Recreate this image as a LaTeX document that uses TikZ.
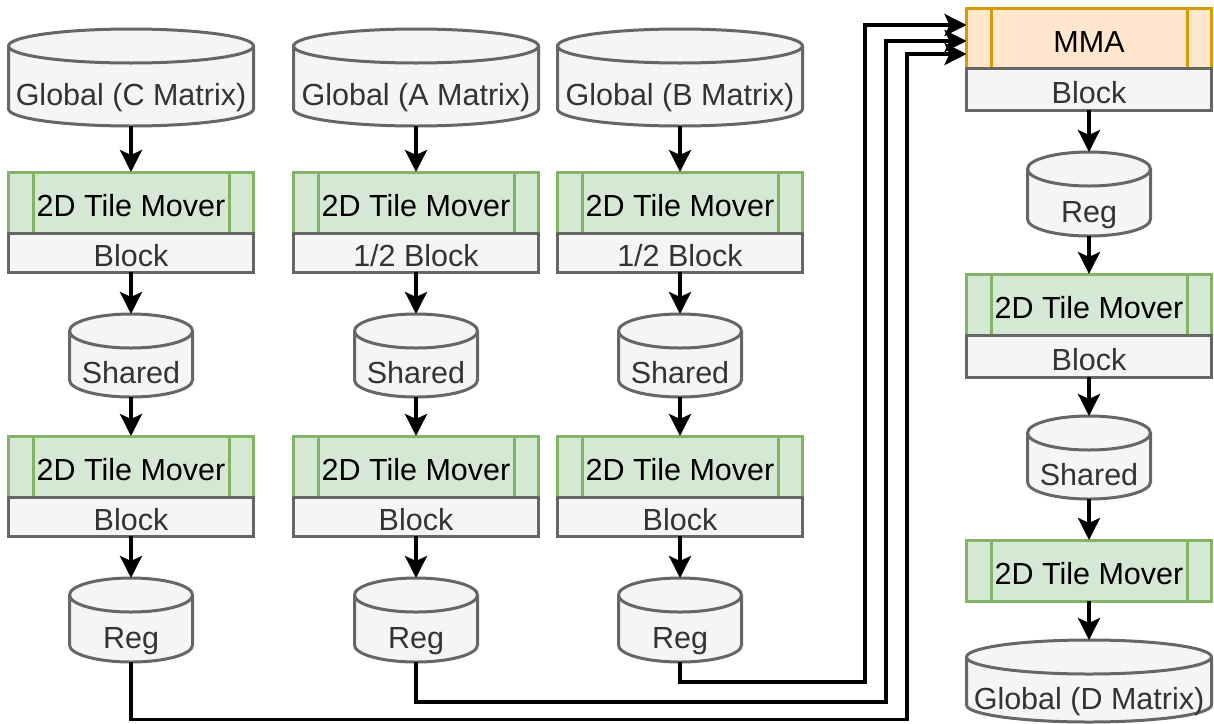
\documentclass[tikz,border=0pt]{standalone}
\usepackage{fontspec}
\setmainfont{Liberation Sans}
\usetikzlibrary{arrows.meta}

\definecolor{boxgray}{HTML}{666666}
\definecolor{boxfill}{HTML}{F5F5F5}
\definecolor{boxtext}{HTML}{333333}
\definecolor{tilefill}{HTML}{D5E8D4}
\definecolor{tileline}{HTML}{82B366}
\definecolor{mmafill}{HTML}{FFE6CC}
\definecolor{mmaline}{HTML}{D79B00}

% drum: a storage cylinder filling the node's rectangle, top ellipse visible
\makeatletter
\pgfkeys{/pgf/drum ry/.initial=17pt}
\pgfdeclareshape{drum}{%
  \inheritsavedanchors[from=rectangle]%
  \inheritanchorborder[from=rectangle]%
  \inheritanchor[from=rectangle]{center}%
  \inheritanchor[from=rectangle]{north}%
  \inheritanchor[from=rectangle]{south}%
  \inheritanchor[from=rectangle]{east}%
  \inheritanchor[from=rectangle]{west}%
  \inheritanchor[from=rectangle]{north east}%
  \inheritanchor[from=rectangle]{north west}%
  \inheritanchor[from=rectangle]{south east}%
  \inheritanchor[from=rectangle]{south west}%
  \backgroundpath{%
    \pgfmathsetlength\pgf@yc{\pgfkeysvalueof{/pgf/drum ry}}%
    \southwest\pgf@xa=\pgf@x\pgf@ya=\pgf@y
    \northeast\pgf@xb=\pgf@x\pgf@yb=\pgf@y
    \pgf@xc=\pgf@xb\advance\pgf@xc by-\pgf@xa\pgf@xc=.5\pgf@xc
    \advance\pgf@yb by-\pgf@yc
    \advance\pgf@ya by\pgf@yc
    \edef\drum@rx{\the\pgf@xc}\edef\drum@ry{\the\pgf@yc}%
    \edef\drum@xa{\the\pgf@xa}\edef\drum@xb{\the\pgf@xb}%
    \edef\drum@ya{\the\pgf@ya}\edef\drum@yb{\the\pgf@yb}%
    % outline: top arc, right side, bottom arc, left side
    \pgfpathmoveto{\pgfqpoint{\drum@xa}{\drum@yb}}%
    \pgfpatharc{180}{0}{\drum@rx and \drum@ry}%
    \pgfpathlineto{\pgfqpoint{\drum@xb}{\drum@ya}}%
    \pgfpatharc{0}{-180}{\drum@rx and \drum@ry}%
    \pgfpathclose
    % front half of the top ellipse
    \pgfpathmoveto{\pgfqpoint{\drum@xb}{\drum@yb}}%
    \pgfpatharc{0}{-180}{\drum@rx and \drum@ry}%
  }%
}
\makeatother

\tikzset{
  every node/.style={font=\fontsize{30.5pt}{36pt}\selectfont, inner sep=0pt, outer sep=0pt},
  store/.style={shape=drum, draw=boxgray, fill=boxfill, text=boxtext,
    line width=3pt, text height=56pt, text depth=0pt},
  bigstore/.style={store, minimum width=245pt},
  smallstore/.style={store, minimum width=123pt},
  process/.style 2 args={rectangle, draw=#2, fill=#1, text=black,
    line width=3pt, minimum width=245pt, minimum height=61pt,
    text height=28pt, text depth=0pt,
    path picture={\draw[#2, line width=3pt]
      ([xshift=24.5pt]path picture bounding box.north west) --
      ([xshift=24.5pt]path picture bounding box.south west)
      ([xshift=-24.5pt]path picture bounding box.north east) --
      ([xshift=-24.5pt]path picture bounding box.south east);}},
  mover/.style={process={tilefill}{tileline}},
  unit/.style={process={mmafill}{mmaline}, minimum height=60pt},
  level/.style={rectangle, draw=boxgray, fill=boxfill, text=boxtext,
    line width=3pt, minimum width=245pt, minimum height=39pt,
    text height=28pt, text depth=0pt, anchor=north},
  flow/.style={draw=black, line width=3.8pt,
    -{Stealth[length=22pt,width=22pt,inset=5pt]}}
}

\begin{document}
\begin{tikzpicture}[x=1pt, y=-1pt]
\useasboundingbox (0,0) rectangle (1214,723);

% C operand column
\node[bigstore, minimum height=97pt] (gC) at (131,77.5) {Global (C Matrix)};
\node[mover] (tC1) at (131,202.5) {2D Tile Mover};
\node[level] (bC1) at (tC1.south) {Block};
\node[smallstore, minimum height=83pt] (sC) at (131,355.5) {Shared};
\node[mover] (tC2) at (131,466.5) {2D Tile Mover};
\node[level] (bC2) at (tC2.south) {Block};
\node[smallstore, minimum height=84pt] (rC) at (131,620) {Reg};

% A operand column
\node[bigstore, minimum height=97pt] (gA) at (416,77.5) {Global (A Matrix)};
\node[mover] (tA1) at (416,202.5) {2D Tile Mover};
\node[level] (bA1) at (tA1.south) {1/2 Block};
\node[smallstore, minimum height=83pt] (sA) at (416,355.5) {Shared};
\node[mover] (tA2) at (416,466.5) {2D Tile Mover};
\node[level] (bA2) at (tA2.south) {Block};
\node[smallstore, minimum height=84pt] (rA) at (416,620) {Reg};

% B operand column
\node[bigstore, minimum height=97pt] (gB) at (680,77.5) {Global (B Matrix)};
\node[mover] (tB1) at (680,202.5) {2D Tile Mover};
\node[level] (bB1) at (tB1.south) {1/2 Block};
\node[smallstore, minimum height=83pt] (sB) at (680,355.5) {Shared};
\node[mover] (tB2) at (680,466.5) {2D Tile Mover};
\node[level] (bB2) at (tB2.south) {Block};
\node[smallstore, minimum height=84pt] (rB) at (680,620) {Reg};

% MMA and result column
\node[unit] (mma) at (1089,38) {MMA};
\node[level, minimum height=42pt] (bD0) at (mma.south) {Block};
\node[smallstore, minimum height=84pt] (rD) at (1089,194) {Reg};
\node[mover] (tD1) at (1089,304.5) {2D Tile Mover};
\node[level, minimum height=42pt] (bD1) at (tD1.south) {Block};
\node[smallstore, minimum height=83pt] (sD) at (1089,457.5) {Shared};
\node[mover] (tD2) at (1089,570.5) {2D Tile Mover};
\node[bigstore, minimum height=82pt] (gD) at (1089,681) {Global (D Matrix)};

% vertical data flow in each column
\foreach \c in {C,A,B}{
  \draw[flow] (g\c.south) -- (t\c1.north);
  \draw[flow] (b\c1.south) -- (s\c.north);
  \draw[flow] (s\c.south) -- (t\c2.north);
  \draw[flow] (b\c2.south) -- (r\c.north);
}
\draw[flow] (bD0.south) -- (rD.north);
\draw[flow] (rD.south) -- (tD1.north);
\draw[flow] (bD1.south) -- (sD.north);
\draw[flow] (sD.south) -- (tD2.north);
\draw[flow] (tD2.south) -- (gD.north);

% register operands routed into the MMA unit
\coordinate (inB) at ([yshift=13pt]mma.west);
\coordinate (inA) at ([yshift=-3pt]mma.west);
\coordinate (inC) at ([yshift=-16pt]mma.west);
\coordinate (lowB) at (865,682);
\coordinate (lowA) at (886,702);
\coordinate (lowC) at (907,719.5);
\draw[flow] (rB.south) |- (lowB) |- (inB);
\draw[flow] (rA.south) |- (lowA) |- (inA);
\draw[flow] (rC.south) |- (lowC) |- (inC);
\end{tikzpicture}
\end{document}
